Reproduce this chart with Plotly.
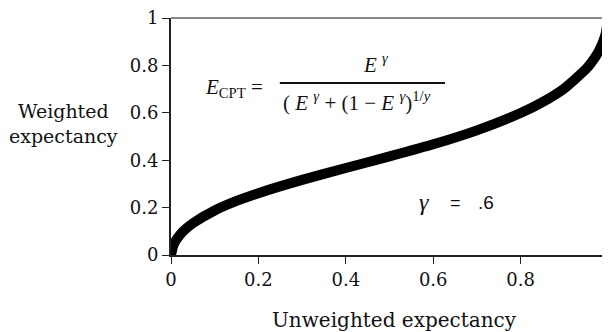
import plotly.graph_objects as go

# valores (gamma = .6)
unweighted = [0, 0.005, 0.01, 0.02, 0.03, 0.05, 0.1, 0.15, 0.2, 0.3, 0.4, 0.5,
              0.6, 0.7, 0.8, 0.85, 0.9, 0.95, 0.97, 0.98, 0.99, 0.995, 1]
weighted = [0, 0.039, 0.058, 0.084, 0.104, 0.134, 0.188, 0.228, 0.261, 0.317, 0.367, 0.416,
            0.467, 0.526, 0.599, 0.645, 0.703, 0.785, 0.833, 0.864, 0.906, 0.936, 1]

tick_vals = [0, 0.2, 0.4, 0.6, 0.8, 1]
tick_text = ["0", "0.2", "0.4", "0.6", "0.8", "1"]

fig = go.Figure()
fig.add_trace(go.Scatter(
    x=unweighted, y=weighted, mode="lines",
    line=dict(color="black", width=10, shape="spline", smoothing=0.5),
    showlegend=False, hoverinfo="skip"
))

tick_font = dict(family="DejaVu Serif", size=18, color="#111")
axis_common = dict(
    range=[0, 1], tickvals=tick_vals, ticktext=tick_text,
    ticks="outside", ticklen=7, tickcolor="#222", tickwidth=1,
    showline=True, linecolor="#222", linewidth=2,
    showgrid=False, zeroline=False, tickfont=tick_font, automargin=False,
    ticklabeloverflow="allow"
)

# la página tiene un margen de 8px en el body, se compensa aquí
fig.update_layout(
    width=602, height=324,
    margin=dict(l=163, r=2, t=10, b=77),
    paper_bgcolor="white", plot_bgcolor="white",
    xaxis=axis_common,
    yaxis=axis_common,
)

# marco superior y derecho (más finos)
fig.add_shape(type="line", xref="paper", yref="paper", x0=0, x1=1, y0=1, y1=1,
              line=dict(color="#888", width=2))
fig.add_shape(type="line", xref="paper", yref="paper", x0=1, x1=1, y0=0, y1=1,
              line=dict(color="#999", width=1))

# títulos de ejes
fig.add_annotation(text="Weighted<br>expectancy", xref="paper", yref="paper",
                   x=-0.245, y=0.553, xanchor="center", yanchor="middle",
                   showarrow=False, align="center",
                   font=dict(family="DejaVu Serif", size=19, color="#111"))
fig.add_annotation(text="Unweighted expectancy", xref="paper", yref="paper",
                   x=0.511, y=-0.274, xanchor="center", yanchor="middle", showarrow=False,
                   font=dict(family="DejaVu Serif", size=20, color="#111"))

# fórmula
serif = dict(family="Liberation Serif", size=21, color="#111")
fig.add_annotation(text="<i>E</i><sub>CPT</sub> =", x=0.073, y=0.705, xanchor="left",
                   showarrow=False, font=serif)
fig.add_annotation(text="<i>E</i> <sup><i>γ</i></sup>", x=0.469, y=0.81, xanchor="center",
                   showarrow=False, font=serif)
fig.add_shape(type="line", x0=0.249, x1=0.627, y0=0.726, y1=0.726,
              line=dict(color="#111", width=2))
fig.add_annotation(text="( <i>E</i> <sup><i>γ</i></sup> + (1 − <i>E</i> <sup><i>γ</i></sup>)<sup>1/<i>y</i></sup>",
                   x=0.425, y=0.648, xanchor="center", showarrow=False, font=serif)

# gamma
fig.add_annotation(text="<i>γ</i>", x=0.579, y=0.222, xanchor="center", showarrow=False,
                   font=dict(family="Liberation Serif", size=24, color="#111"))
fig.add_annotation(text="=", x=0.652, y=0.219, xanchor="center", showarrow=False,
                   font=dict(family="Liberation Sans", size=18, color="#111"))
fig.add_annotation(text=".6", x=0.721, y=0.222, xanchor="center", showarrow=False,
                   font=dict(family="Liberation Sans", size=19, color="#111"))

fig.write_html("out.html")
